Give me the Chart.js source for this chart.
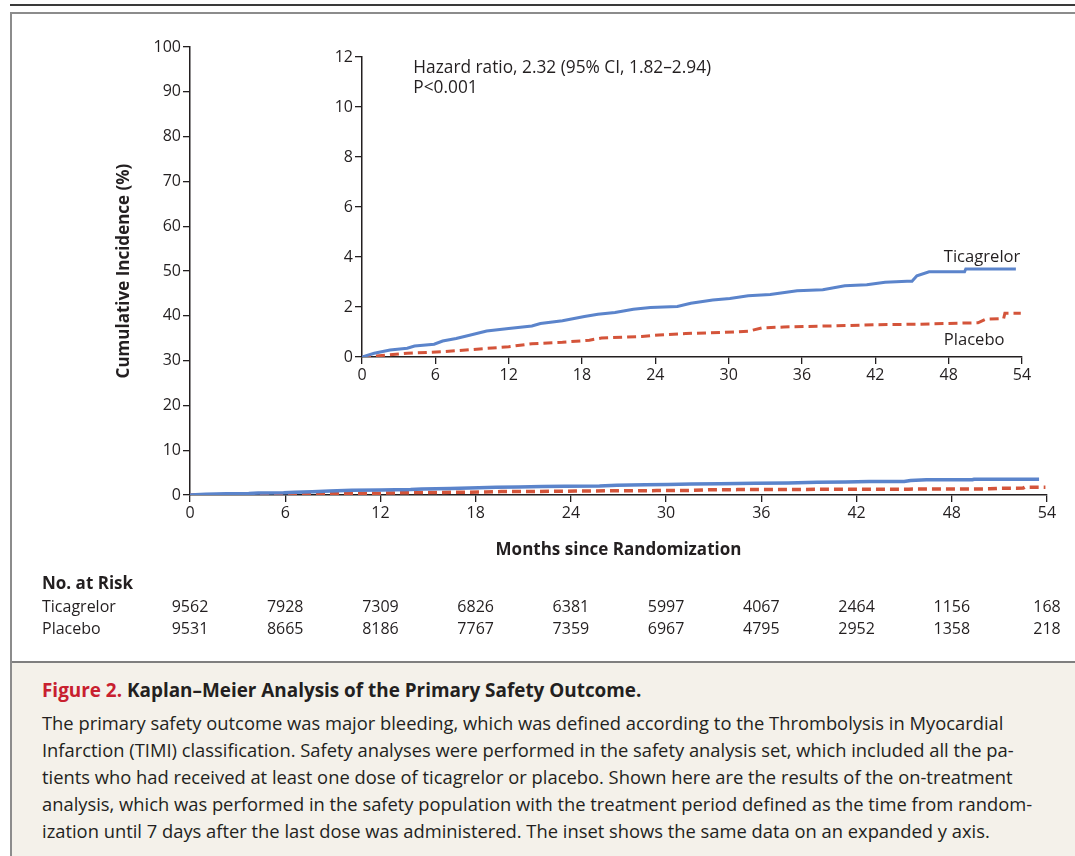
<!DOCTYPE html>
<html lang="en">
<head>
<meta charset="UTF-8">
<title>Kaplan–Meier Analysis of the Primary Safety Outcome</title>
<script src="https://cdn.jsdelivr.net/npm/chart.js@4"></script>
<style>
  body { margin: 0; width: 1075px; height: 856px; overflow: hidden; position: relative; background: #fff;
         font-family: 'Open Sans', 'Noto Sans', sans-serif; color: #231f20; }
  .top-rule { position: absolute; left: 10px; top: 4px; width: 1065px; height: 2px; background: #3a3a3a; }
  .frame { position: absolute; left: 10px; top: 12px; width: 1090px; height: 880px; border: 2px solid #8c8c8c; box-sizing: border-box; }
  #main-wrap { position: absolute; left: 0; top: 0; width: 1075px; height: 660px; }
  #inset-wrap { position: absolute; left: 300px; top: 40px; width: 760px; height: 370px; }
  .caption { position: absolute; left: 12px; top: 661px; width: 1080px; height: 210px; background: #f4f1ea;
             border-top: 2px solid #7f7f7f; box-sizing: border-box; padding: 14px 0 0 30px; }
  .caption h2 { margin: 0 0 6px 0; font-size: 18.9px; font-weight: 700; line-height: 26px; white-space: nowrap; }
  .caption h2 span { color: #c8202f; }
  .caption p { margin: 0; font-size: 18.35px; line-height: 27px; white-space: nowrap; }
</style>
</head>
<body>
<div class="top-rule"></div>
<div class="frame"></div>
<div id="main-wrap"><canvas id="main-chart" width="1075" height="660"></canvas></div>
<div id="inset-wrap"><canvas id="inset-chart" width="760" height="370"></canvas></div>
<div class="caption">
  <h2><span>Figure 2.</span> Kaplan–Meier Analysis of the Primary Safety Outcome.</h2>
  <p>The primary safety outcome was major bleeding, which was defined according to the Thrombolysis in Myocardial<br>
  Infarction (TIMI) classification. Safety analyses were performed in the safety analysis set, which included all the pa-<br>
  tients who had received at least one dose of ticagrelor or placebo. Shown here are the results of the on-treatment<br>
  analysis, which was performed in the safety population with the treatment period defined as the time from random-<br>
  ization until 7 days after the last dose was administered. The inset shows the same data on an expanded y axis.</p>
</div>

<script>
  // Kaplan-Meier curves (months, cumulative incidence %)
  const ticagrelorMonths = [0, 1.0, 2.3, 3.7, 4.3, 5.9, 6.6, 7.7, 8.8, 10.2, 12.0, 13.9, 14.6, 16.4, 18.2, 19.3, 20.7, 22.2, 23.6, 25.8, 26.9, 28.7, 30.1, 31.6, 33.4, 35.6, 37.7, 39.5, 41.3, 42.8, 44.6, 45.0, 45.4, 46.4, 49.3, 49.4, 53.5];
  const ticagrelorRisk = [0, 0.15, 0.28, 0.35, 0.44, 0.51, 0.64, 0.74, 0.87, 1.04, 1.14, 1.24, 1.34, 1.45, 1.62, 1.71, 1.78, 1.91, 1.98, 2.02, 2.15, 2.28, 2.34, 2.45, 2.50, 2.65, 2.69, 2.85, 2.89, 2.99, 3.03, 3.03, 3.25, 3.41, 3.41, 3.52, 3.52];
  const placeboMonths = [0, 1.9, 3.7, 6.6, 8.8, 12.0, 13.9, 16.4, 18.6, 19.6, 22.9, 24.3, 26.5, 29.4, 31.6, 32.7, 34.5, 38.1, 42.1, 45.3, 50.4, 51.0, 52.5, 52.6, 53.9];
  const placeboRisk = [0, 0.07, 0.15, 0.21, 0.29, 0.41, 0.53, 0.59, 0.67, 0.76, 0.82, 0.88, 0.94, 0.98, 1.03, 1.16, 1.20, 1.24, 1.29, 1.31, 1.37, 1.51, 1.54, 1.75, 1.75];

  // No. at risk table
  const riskMonths = [0, 6, 12, 18, 24, 30, 36, 42, 48, 54];
  const atRiskTicagrelor = [9562, 7928, 7309, 6826, 6381, 5997, 4067, 2464, 1156, 168];
  const atRiskPlacebo = [9531, 8665, 8186, 7767, 7359, 6967, 4795, 2952, 1358, 218];

  const hazardText = ['Hazard ratio, 2.32 (95% CI, 1.82\u20132.94)', 'P<0.001'];

  const BLUE = '#5b84cb';
  const RED = '#d4543a';
  const INK = '#231f20';
  const FONT = "'Open Sans', 'Noto Sans', sans-serif";

  function toPoints(xs, ys) {
    return xs.map((x, i) => ({ x: x, y: ys[i] }));
  }

  function makeDatasets(width) {
    return [{
      label: 'Ticagrelor',
      data: toPoints(ticagrelorMonths, ticagrelorRisk),
      borderColor: BLUE,
      borderWidth: width,
      pointRadius: 0,
      tension: 0
    }, {
      label: 'Placebo',
      data: toPoints(placeboMonths, placeboRisk),
      borderColor: RED,
      borderWidth: width,
      borderDash: [9, 5],
      pointRadius: 0,
      tension: 0
    }];
  }

  function axis(min, max, step, fontSize) {
    return {
      type: 'linear',
      min: min,
      max: max,
      ticks: { stepSize: step, color: INK, padding: 2, font: { family: FONT, size: fontSize } },
      grid: { drawOnChartArea: false, drawTicks: true, tickLength: 7, color: INK, lineWidth: 1.3 },
      border: { display: true, color: INK, width: 1.5 }
    };
  }

  // draws the "No. at Risk" rows under the main x axis
  const atRiskPlugin = {
    id: 'atRisk',
    afterDraw(chart) {
      const ctx = chart.ctx;
      const x = chart.scales.x;
      ctx.save();
      ctx.fillStyle = INK;
      ctx.textBaseline = 'middle';
      ctx.textAlign = 'left';
      ctx.font = 'bold 17px ' + FONT;
      ctx.fillText('No. at Risk', 42, 584);
      ctx.font = '16px ' + FONT;
      ctx.fillText('Ticagrelor', 42, 607);
      ctx.fillText('Placebo', 42, 629);
      ctx.textAlign = 'center';
      riskMonths.forEach((m, i) => {
        const px = x.getPixelForValue(m);
        ctx.fillText(String(atRiskTicagrelor[i]), px, 607);
        ctx.fillText(String(atRiskPlacebo[i]), px, 629);
      });
      ctx.restore();
    }
  };

  // hazard ratio text and series labels inside the inset
  const insetTextPlugin = {
    id: 'insetText',
    afterDraw(chart) {
      const ctx = chart.ctx;
      const x = chart.scales.x;
      const y = chart.scales.y;
      ctx.save();
      ctx.fillStyle = INK;
      ctx.textBaseline = 'middle';
      ctx.textAlign = 'left';
      ctx.font = '17.3px ' + FONT;
      const hx = x.getPixelForValue(4.2);
      ctx.fillText(hazardText[0], hx, y.getPixelForValue(11.55));
      ctx.fillText(hazardText[1], hx, y.getPixelForValue(10.75));
      ctx.font = '16.6px ' + FONT;
      ctx.fillText('Ticagrelor', x.getPixelForValue(47.6), y.getPixelForValue(3.97));
      ctx.fillText('Placebo', x.getPixelForValue(47.6), y.getPixelForValue(0.65));
      ctx.restore();
    }
  };

  const mainX = axis(0, 54, 6, 16);
  mainX.title = { display: true, text: 'Months since Randomization', color: INK,
                  font: { family: FONT, size: 17, weight: 'bold' }, padding: { top: 0, bottom: 100 } };
  mainX.afterFit = s => { s.height = 165; };
  const mainY = axis(0, 100, 10, 16);
  mainY.title = { display: true, text: 'Cumulative Incidence (%)', color: INK,
                  font: { family: FONT, size: 17, weight: 'bold' }, padding: { top: 114, bottom: 0 } };
  mainY.afterFit = s => { s.width = 190; };

  new Chart(document.getElementById('main-chart'), {
    type: 'line',
    data: { datasets: makeDatasets(3.5) },
    options: {
      responsive: false,
      animation: false,
      layout: { padding: { top: 47, right: 28, left: 0, bottom: 0 } },
      scales: { x: mainX, y: mainY },
      plugins: { legend: { display: false }, tooltip: { enabled: false } }
    },
    plugins: [atRiskPlugin]
  });

  const insetX = axis(0, 54, 6, 16);
  insetX.afterFit = s => { s.height = 53; };
  const insetY = axis(0, 12, 2, 16);
  insetY.afterFit = s => { s.width = 62; };

  new Chart(document.getElementById('inset-chart'), {
    type: 'line',
    data: { datasets: makeDatasets(3) },
    options: {
      responsive: false,
      animation: false,
      layout: { padding: { top: 17, right: 38, left: 0, bottom: 0 } },
      scales: { x: insetX, y: insetY },
      plugins: { legend: { display: false }, tooltip: { enabled: false } }
    },
    plugins: [insetTextPlugin]
  });
</script>
</body>
</html>
